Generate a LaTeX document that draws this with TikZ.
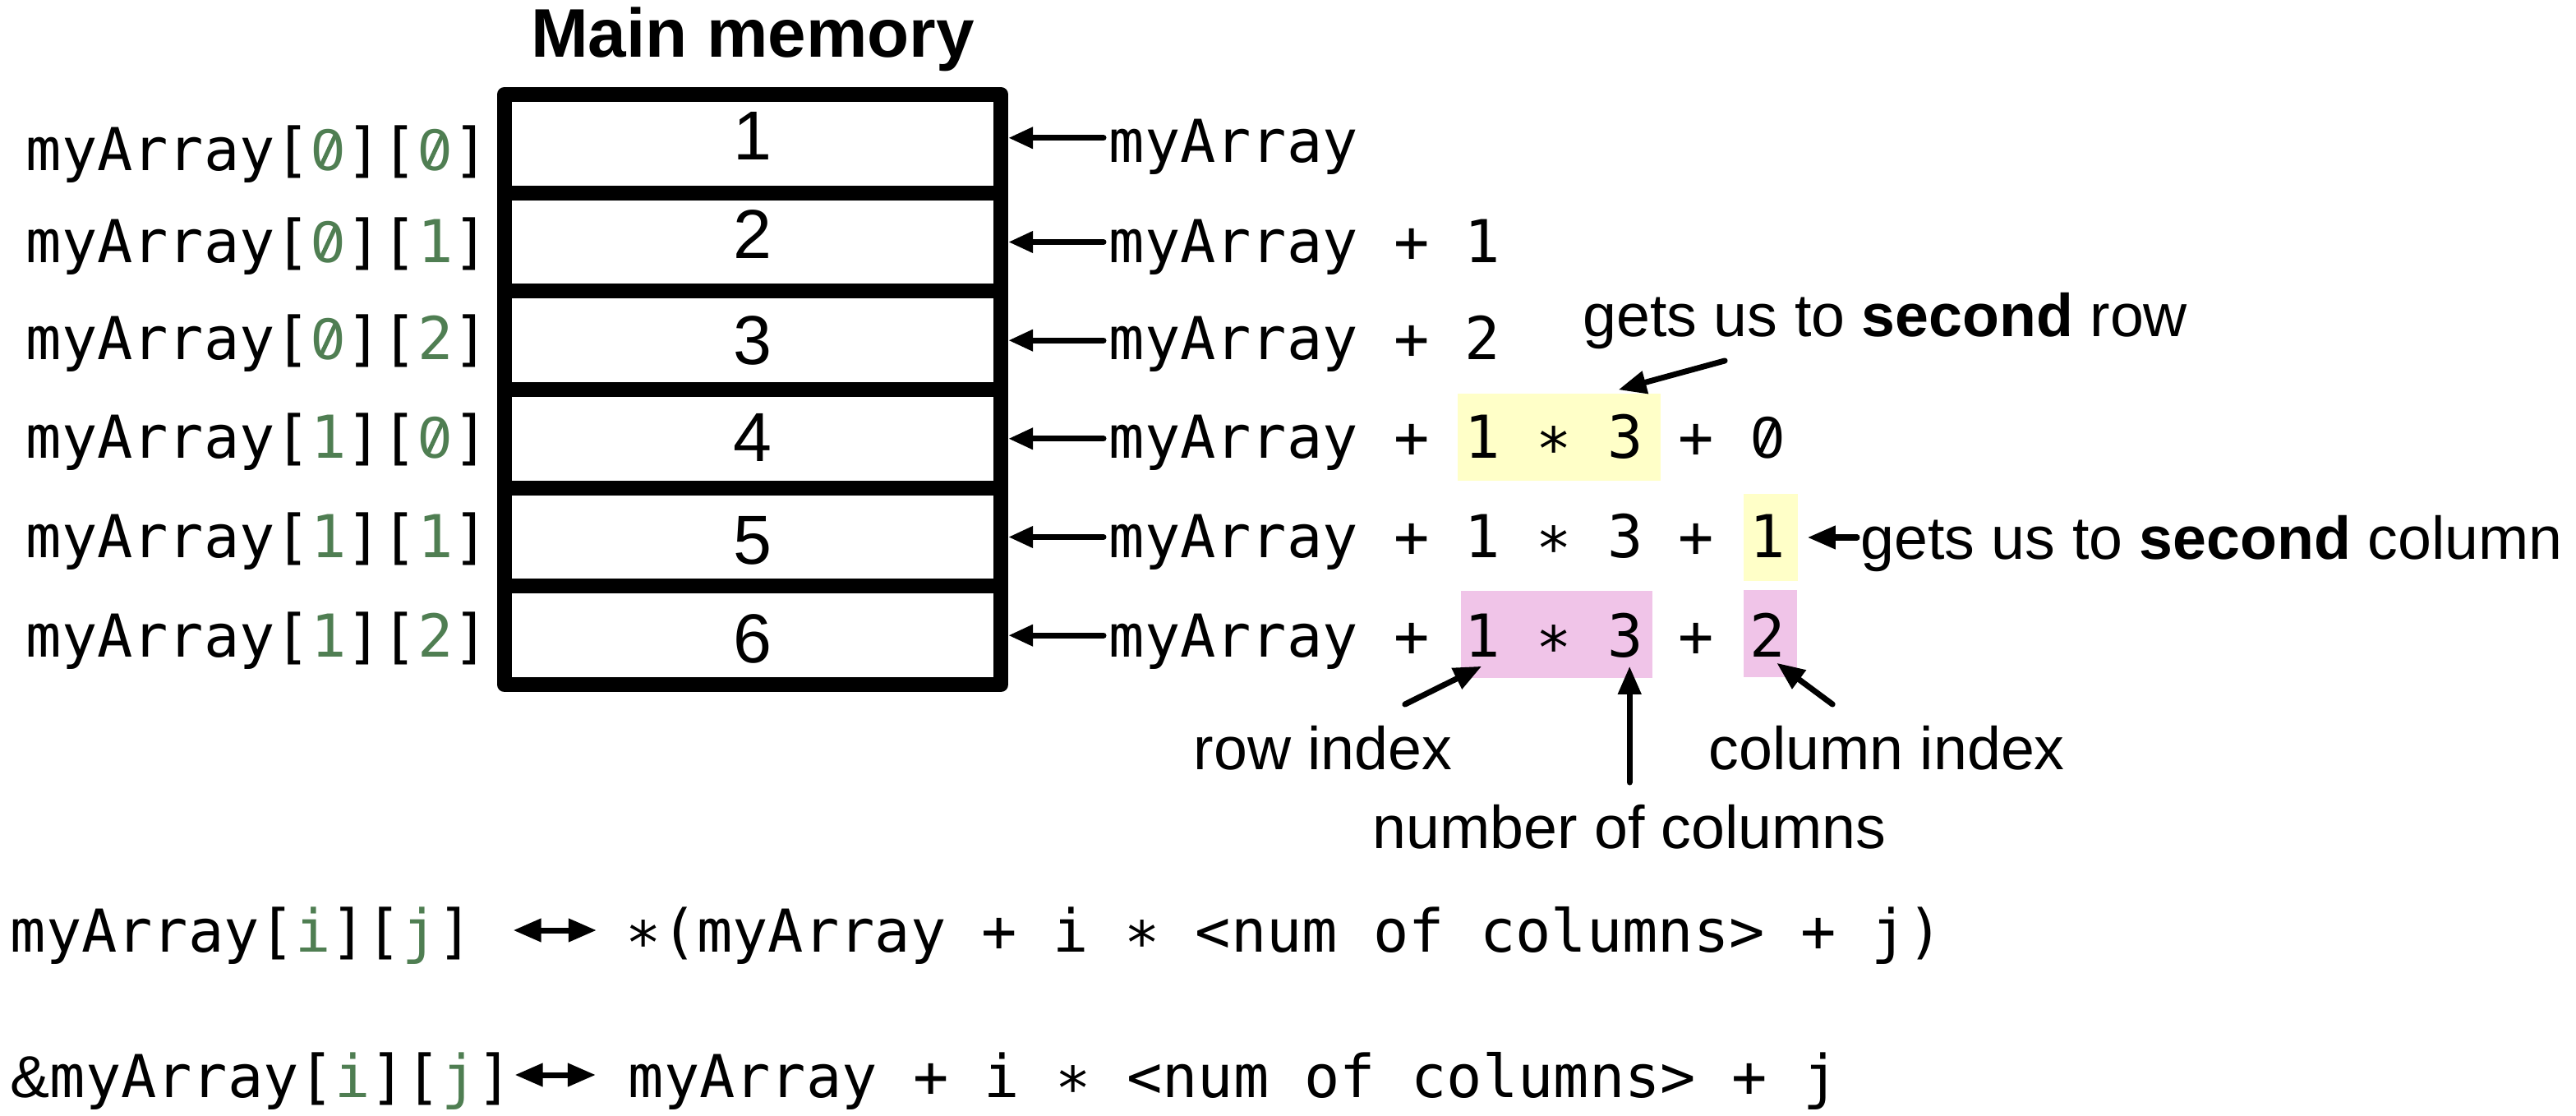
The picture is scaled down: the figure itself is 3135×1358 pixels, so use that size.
\documentclass[tikz,border=0pt]{standalone}
\usepackage{graphicx}
\usepackage{fontspec}
\setmainfont{Liberation Sans}
\newfontfamily\codefont{DejaVu Sans Mono}
\newfontfamily\digfont{Liberation Sans}
\usetikzlibrary{arrows.meta,calc}
\definecolor{idxgreen}{RGB}{79,126,82}
\definecolor{hlyellow}{RGB}{255,255,200}
\definecolor{hlpink}{RGB}{240,196,232}
\newcommand\gi[1]{\textcolor{idxgreen}{#1}}
% slashed zero, as the reference's monospace font draws it
\newcommand\szero{\makebox[0.602em]{\digfont 0}\llap{\makebox[0.602em]{\raisebox{0.07em}{\rotatebox{65}{\rule{0.6em}{0.072em}}}}}}
\begin{document}
\begin{tikzpicture}[x=0.01cm,y=-0.01cm,
  memcell/.style={draw, line width=0.18cm, line join=round, minimum width=6.04cm, minimum height=1.1967cm, inner sep=0, anchor=center},
  code/.style={inner sep=0, anchor=base west, font=\fontsize{20.46pt}{24pt}\selectfont\codefont},
  lbl/.style={inner sep=0, anchor=base west, font=\fontsize{20.9pt}{25pt}\selectfont},
  digit/.style={inner sep=0, anchor=base, font=\fontsize{24pt}{28pt}\selectfont},
  ptr/.style={line width=0.07cm, line cap=round, -{Triangle[length=0.30cm,width=0.25cm]}},
  note/.style={line width=0.07cm, line cap=round, -{Triangle[length=0.34cm,width=0.27cm]}},
  dbl/.style={line width=0.07cm, {Triangle[length=0.34cm,width=0.27cm]}-{Triangle[length=0.34cm,width=0.27cm]}},
  hl/.style={inner sep=0, minimum height=1.06cm},
]
\useasboundingbox (0,0) rectangle (3135,1358);

% title
\node[inner sep=0, anchor=base, font=\fontsize{23.8pt}{28pt}\selectfont\bfseries] (title) at (916,70) {Main memory};

% memory cells
\node[memcell] (C1) at (916,174.8) {};
\node[memcell] (C2) at (916,294.5) {};
\node[memcell] (C3) at (916,414.2) {};
\node[memcell] (C4) at (916,533.8) {};
\node[memcell] (C5) at (916,653.5) {};
\node[memcell] (C6) at (916,773.2) {};
\node[digit] (D1) at (916,195) {1};
\node[digit] (D2) at (916,315) {2};
\node[digit] (D3) at (916,444) {3};
\node[digit] (D4) at (916,562) {4};
\node[digit] (D5) at (916,687) {5};
\node[digit] (D6) at (916,807) {6};

% left labels
\node[code] (L1) at (31,208) {myArray[\gi{\szero}][\gi{\szero}]};
\node[code] (L2) at (31,320) {myArray[\gi{\szero}][\gi{1}]};
\node[code] (L3) at (31,438) {myArray[\gi{\szero}][\gi{2}]};
\node[code] (L4) at (31,558) {myArray[\gi{1}][\gi{\szero}]};
\node[code] (L5) at (31,679) {myArray[\gi{1}][\gi{1}]};
\node[code] (L6) at (31,799) {myArray[\gi{1}][\gi{2}]};

% highlights
\node[hl, fill=hlyellow, minimum width=2.47cm] (H4) at (1897.5,532) {};
\node[hl, fill=hlyellow, minimum width=0.66cm] (H5) at (2155,654) {};
\node[hl, fill=hlpink, minimum width=2.33cm] (P6a) at (1894.5,772) {};
\node[hl, fill=hlpink, minimum width=0.65cm] (P6b) at (2154.5,771) {};

% right expressions
\node[code] (R1) at (1349,198) {myArray};
\node[code] (R2) at (1349,320) {myArray + 1};
\node[code] (R3) at (1349,438) {myArray + 2};
\node[code] (R4) at (1349,558) {myArray + 1 ∗ 3 + \szero};
\node[code] (R5) at (1349,679) {myArray + 1 ∗ 3 + 1};
\node[code] (R6) at (1349,799) {myArray + 1 ∗ 3 + 2};

\draw[ptr] ($(R1.west |- C1.east)+(-6,-7)$) -- ($(C1.east)+(0,-7)$);
\foreach \k in {2,...,6}{
  \draw[ptr] ($(R\k.west |- C\k.east)+(-6,0)$) -- (C\k.east);
}

% annotations
\node[lbl] (A1) at (1926,410) {gets us to \textbf{second} row};
\node[lbl] (A2) at (2264,680) {gets us to \textbf{second} column};
\node[lbl] (N1) at (1452,936) {row index};
\node[lbl] (N2) at (1670,1032) {number of columns};
\node[lbl] (N3) at (2079,936) {column index};

\draw[note] ($(A1.south west)!0.235!(A1.south east)+(0,13)$) -- ($(H4.north west)!0.79!(H4.north east)+(0,-4)$);
\draw[note] ($(A2.west |- H5.east)+(-4,0)$) -- ($(H5.east)+(11,0)$);
\draw[note] ($(N1.north west)!0.816!(N1.north east)+(0,-25)$) -- ($(P6a.south west)+(26,-15)$);
\draw[note] ($(N2.north)+(0,-26)$) -- ($(N2.north |- P6a.south)+(0,-15)$);
\draw[note] ($(N3.north west)!0.348!(N3.north east)+(0,-25)$) -- ($(P6b.south west)+(41,-18)$);

% bottom formulas
\node[code] (F1L) at (12,1158) {myArray[\gi{i}][\gi{j}]};
\node[code] (F1R) at (761,1158) {∗(myArray + i ∗ <num of columns> + j)};
\node[code] (F2L) at (12,1335) {{\rmfamily\&}myArray[\gi{i}][\gi{j}]};
\node[code] (F2R) at (764,1335) {myArray + i ∗ <num of columns> + j};

\draw[dbl] ($(F1L.base east)+(48,-26)$) -- ($(F1R.base west)+(-35,-26)$);
\draw[dbl] ($(F2L.base east)+(2,-27)$) -- ($(F2R.base west)+(-39,-27)$);
\end{tikzpicture}
\end{document}
